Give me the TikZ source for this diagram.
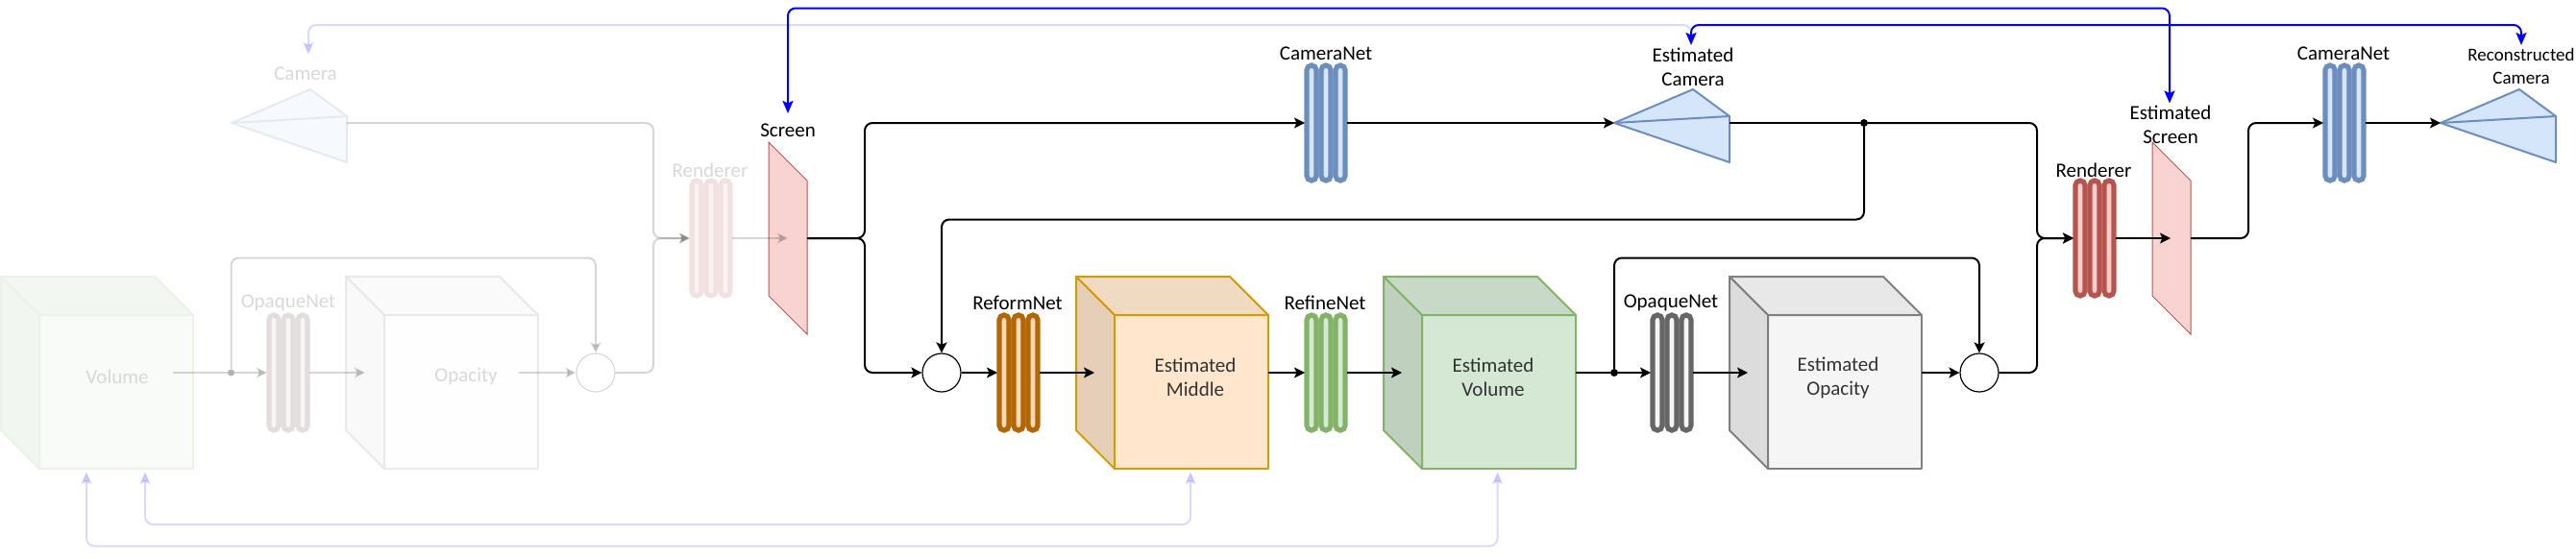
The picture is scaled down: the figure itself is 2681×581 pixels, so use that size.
\documentclass[tikz,border=0pt]{standalone}
\usepackage{fontspec}
\setmainfont{Carlito}
\usetikzlibrary{arrows.meta,positioning,calc}
\newcommand{\hexcol}[1]{\definecolor{c#1}{HTML}{#1}}
\hexcol{EAF3E6}\hexcol{F8FBF7}\hexcol{F3F7F1}\hexcol{F2F6F0}
\hexcol{E9E9E9}\hexcol{FEFEFE}\hexcol{FAFAFA}\hexcol{F9F9F9}
\hexcol{E4EAF4}\hexcol{F6FAFE}
\hexcol{E3DDDD}\hexcol{F8F5F5}\hexcol{F1E1E0}\hexcol{FBF2F2}
\hexcol{D79B00}\hexcol{FFE6CC}\hexcol{F1DAC2}\hexcol{E5CFB8}
\hexcol{C8DAC7}\hexcol{BFD1BE}\hexcol{E8E8E8}\hexcol{DCDCDC}\hexcol{808080}
\definecolor{blueS}{HTML}{6C8EBF}\definecolor{blueF}{HTML}{D6E6FA}
\definecolor{redS}{HTML}{B85450}\definecolor{redF}{HTML}{F8CECC}
\definecolor{orS}{HTML}{B46504}\definecolor{orF}{HTML}{FAD9B8}
\definecolor{grS}{HTML}{82B366}\definecolor{grF}{HTML}{D5E8D4}
\definecolor{gyS}{HTML}{666666}\definecolor{gyF}{HTML}{F5F5F5}
\definecolor{fadeText}{HTML}{D8D8D8}
\definecolor{purp}{HTML}{0000FF}
\tikzset{
  anchorbox/.style={inner sep=0pt,outer sep=0pt,minimum width=#1},
  tip/.style={-{Stealth[length=11pt,width=11pt,inset=2.5pt]}},
  conn/.style={line width=2pt,black,rounded corners=8pt,tip},
  plainconn/.style={line width=2pt,black,rounded corners=8pt},
  fadeconn/.style={conn,opacity=.16},
  fadeplain/.style={plainconn,opacity=.16},
  blueconn/.style={line width=2pt,purp,rounded corners=8pt,{Stealth[length=13pt,width=11pt,inset=2.5pt]}-{Stealth[length=13pt,width=11pt,inset=2.5pt]}},
  blueone/.style={line width=2pt,purp,rounded corners=8pt,-{Stealth[length=13pt,width=11pt,inset=2.5pt]}},
  fadeblue/.style={blueconn,opacity=.15},
  lab/.style={font=\fontsize{21}{25}\selectfont,text=black,align=center,inner sep=0pt},
  smalllab/.style={font=\fontsize{19}{23.5}\selectfont,text=black,align=center,inner sep=0pt},
  fadelab/.style={lab,text=fadeText},
  cubelab/.style={lab,text=black!80},
  junction/.style={circle,fill=black,inner sep=0pt,minimum size=8pt},
  fadejunction/.style={circle,fill=black,opacity=.3,inner sep=0pt,minimum size=7pt},
  adder/.style={circle,draw=black,fill=white,line width=1.2pt,minimum size=40pt,inner sep=0pt},
  fadeadder/.style={circle,draw=black!15,fill=white,line width=1.2pt,minimum size=40pt,inner sep=0pt},
}
% name, centre x, centre y, stroke, fill
\newcommand{\netshape}[5]{%
  \node[anchorbox=44pt,minimum height=124pt] (#1) at (#2,#3) {};
  \foreach \dx in {-15,0,15}{
    \draw[draw=#4,fill=#5,line width=5.2pt,rounded corners=5pt]
      ({#2+\dx-5},{#3-60}) rectangle ({#2+\dx+5},{#3+60});
  }}
% name, left x, stroke, front, top, side
\newcommand{\cubeshape}[6]{%
  \node[anchorbox=200pt,minimum height=200pt] (#1) at ({#2+100},388) {};
  \draw[draw=#3,fill=#4,line width=2pt,line join=round] ({#2+40},328) rectangle ({#2+200},488);
  \draw[draw=#3,fill=#5,line width=2pt,line join=round] (#2,288) -- ({#2+160},288) -- ({#2+200},328) -- ({#2+40},328) -- cycle;
  \draw[draw=#3,fill=#6,line width=2pt,line join=round] (#2,288) -- ({#2+40},328) -- ({#2+40},488) -- (#2,448) -- cycle;}
% name, left x, stroke, fill
\newcommand{\camshape}[4]{%
  \node[anchorbox=120pt,minimum height=82pt] (#1) at ({#2+60},128) {};
  \draw[draw=#3,fill=#4,line width=2pt,line join=round]
    (#2,128) -- ({#2+82},93) -- ({#2+120},121) -- ({#2+120},169) -- cycle;
  \draw[draw=#3,line width=2pt] (#2,128) -- ({#2+120},121);}
% name, left x
\newcommand{\scrshape}[2]{%
  \node[anchorbox=40pt,minimum height=200pt] (#1) at ({#2+20},248) {};
  \draw[draw=redS,fill=redF!90!white,line width=1pt] (#2,148) -- ({#2+40},188) -- ({#2+40},348) -- (#2,308) -- cycle;}
\begin{document}
\begin{tikzpicture}[x=1pt,y=-1pt]
\useasboundingbox (0,0) rectangle (2681,581);
% faded shapes
\cubeshape{volA}{1}{cEAF3E6}{cF8FBF7}{cF3F7F1}{cF2F6F0}
\cubeshape{opA}{360}{cE9E9E9}{cFEFEFE}{cFAFAFA}{cF9F9F9}
\camshape{camA}{241}{cE4EAF4}{cF6FAFE}
\netshape{opnetA}{300}{388}{cE3DDDD}{cF8F5F5}
\netshape{renA}{740}{248}{cF1E1E0}{cFBF2F2}
\node[fadeadder] (addA) at (620,388) {};
\node[fadelab] (tCam) at (318,77) {Camera};
\node[fadelab] (tRenA) at (739,177) {Renderer};
\node[fadelab] (tOpA) at (300,315) {OpaqueNet};
\node[fadelab] (tVol) at (122,392) {Volume};
\node[fadelab] (tOpac) at (485,392) {Opacity};
% main shapes
\scrshape{scr}{800}
\netshape{camnet}{1380}{128}{blueS}{blueF}
\camshape{camE}{1680}{blueS}{blueF}
\node[adder] (addB) at (980,388) {};
\netshape{reform}{1060}{388}{orS}{orF}
\cubeshape{mid}{1120}{cD79B00}{cFFE6CC}{cF1DAC2}{cE5CFB8}
\netshape{refine}{1380}{388}{grS}{grF}
\cubeshape{volE}{1440}{grS}{grF}{cC8DAC7}{cBFD1BE}
\netshape{opnet}{1740}{388}{gyS}{gyF}
\cubeshape{opE}{1800}{c808080}{gyF}{cE8E8E8}{cDCDCDC}
\node[adder] (addC) at (2060,388) {};
\netshape{ren}{2180}{248}{redS}{redF}
\scrshape{scrE}{2240}
\netshape{camnetB}{2440}{128}{blueS}{blueF}
\camshape{camR}{2540}{blueS}{blueF}
% labels
\node[lab] (tScr) at (820,136) {Screen};
\node[lab] (tCN) at (1380,55.5) {CameraNet};
\node[lab,text depth=0pt] (tEC) at (1762,70) {Estimated\\Camera};
\node[lab] (tRef) at (1059,315) {ReformNet};
\node[lab] (tRefine) at (1379,315) {RefineNet};
\node[lab] (tOpN) at (1739,315) {OpaqueNet};
\node[lab] (tRen) at (2179,177) {Renderer};
\node[lab] (tES) at (2259,130) {Estimated\\Screen};
\node[lab] (tCNB) at (2439,55.5) {CameraNet};
\node[smalllab] (tRC) at (2624,69) {Reconstructed\\Camera};
\node[cubelab] (tMid) at (1244,393) {Estimated\\Middle};
\node[cubelab] (tVolE) at (1554,393) {Estimated\\Volume};
\node[cubelab] (tOpE) at (1913,393) {Estimated\\Opacity};
% junctions and free ends
\node[fadejunction] (jA) at (240.5,388) {};
\node[junction] (jB) at (1940,128) {};
\node[junction] (jC) at (1680,388) {};
\coordinate (volOut) at (180,388);
\coordinate (opInA) at (380,388);
\coordinate (opOutA) at (540,388);
\coordinate (scrInA) at (820,248);
\coordinate (midIn) at (1139,388);
\coordinate (volEIn) at (1459,388);
\coordinate (opEIn) at (1819,388);
\coordinate (scrEIn) at (2259,248);
\coordinate (camIn) at (321,57);
\coordinate (scrTop) at (820,118);
\coordinate (scrETop) at (2258,107.5);
\coordinate (camETop) at (1760,47);
\coordinate (camRTop) at (2624,47);
\coordinate (volB1) at (151,491);
\coordinate (volB2) at (90,491);
\coordinate (midB) at (1239,491);
\coordinate (volEB) at (1558.5,491);
% faded connectors
\draw[fadeplain] (volOut) -- (jA);
\draw[fadeconn] (jA) -- (opnetA.west);
\draw[fadeconn] (opnetA.east) -- (opInA);
\draw[fadeconn] (opOutA) -- (addA.west);
\draw[fadeconn] (jA) |- (620,268.5) -- (addA.north);
\draw[fadeconn] (addA.east) -| (680,248) -- (renA.west);
\draw[fadeconn] (camA.east) -| (680,248) -- (renA.west);
\draw[fadeconn] (renA.east) -- (scrInA);
% main connectors
\draw[conn] (scr.east) -- (900,248) |- (camnet.west);
\draw[conn] (scr.east) -- (900,248) |- (addB.west);
\draw[conn] (camnet.east) -- (camE.west);
\draw[plainconn] (camE.east) -- (jB);
\draw[conn] (jB) -- (2120,128) |- (ren.west);
\draw[conn] (jB) |- (980,228.5) -- (addB.north);
\draw[conn] (addB.east) -- (reform.west);
\draw[conn] (reform.east) -- (midIn);
\draw[conn] (mid.east) -- (refine.west);
\draw[conn] (refine.east) -- (volEIn);
\draw[plainconn] (volE.east) -- (jC);
\draw[conn] (jC) -- (opnet.west);
\draw[conn] (jC) |- (2060,268.5) -- (addC.north);
\draw[conn] (opnet.east) -- (opEIn);
\draw[conn] (opE.east) -- (addC.west);
\draw[conn] (addC.east) -- (2120,388) |- (ren.west);
\draw[conn] (ren.east) -- (scrEIn);
\draw[conn] (scrE.east) -- (2340,248) |- (camnetB.west);
\draw[conn] (camnetB.east) -- (camR.west);
% loss connectors
\draw[fadeblue] (volB1) |- (1239,546) -- (midB);
\draw[fadeblue] (volB2) |- (1558.5,568.5) -- (volEB);
\draw[blueone,opacity=.15] (1760,40) |- (321,26) -- (camIn);
\draw[blueconn] (scrTop) |- (2258,8.5) -- (scrETop);
\draw[blueconn] (camETop) |- (2624,26) -- (camRTop);
\end{tikzpicture}
\end{document}
